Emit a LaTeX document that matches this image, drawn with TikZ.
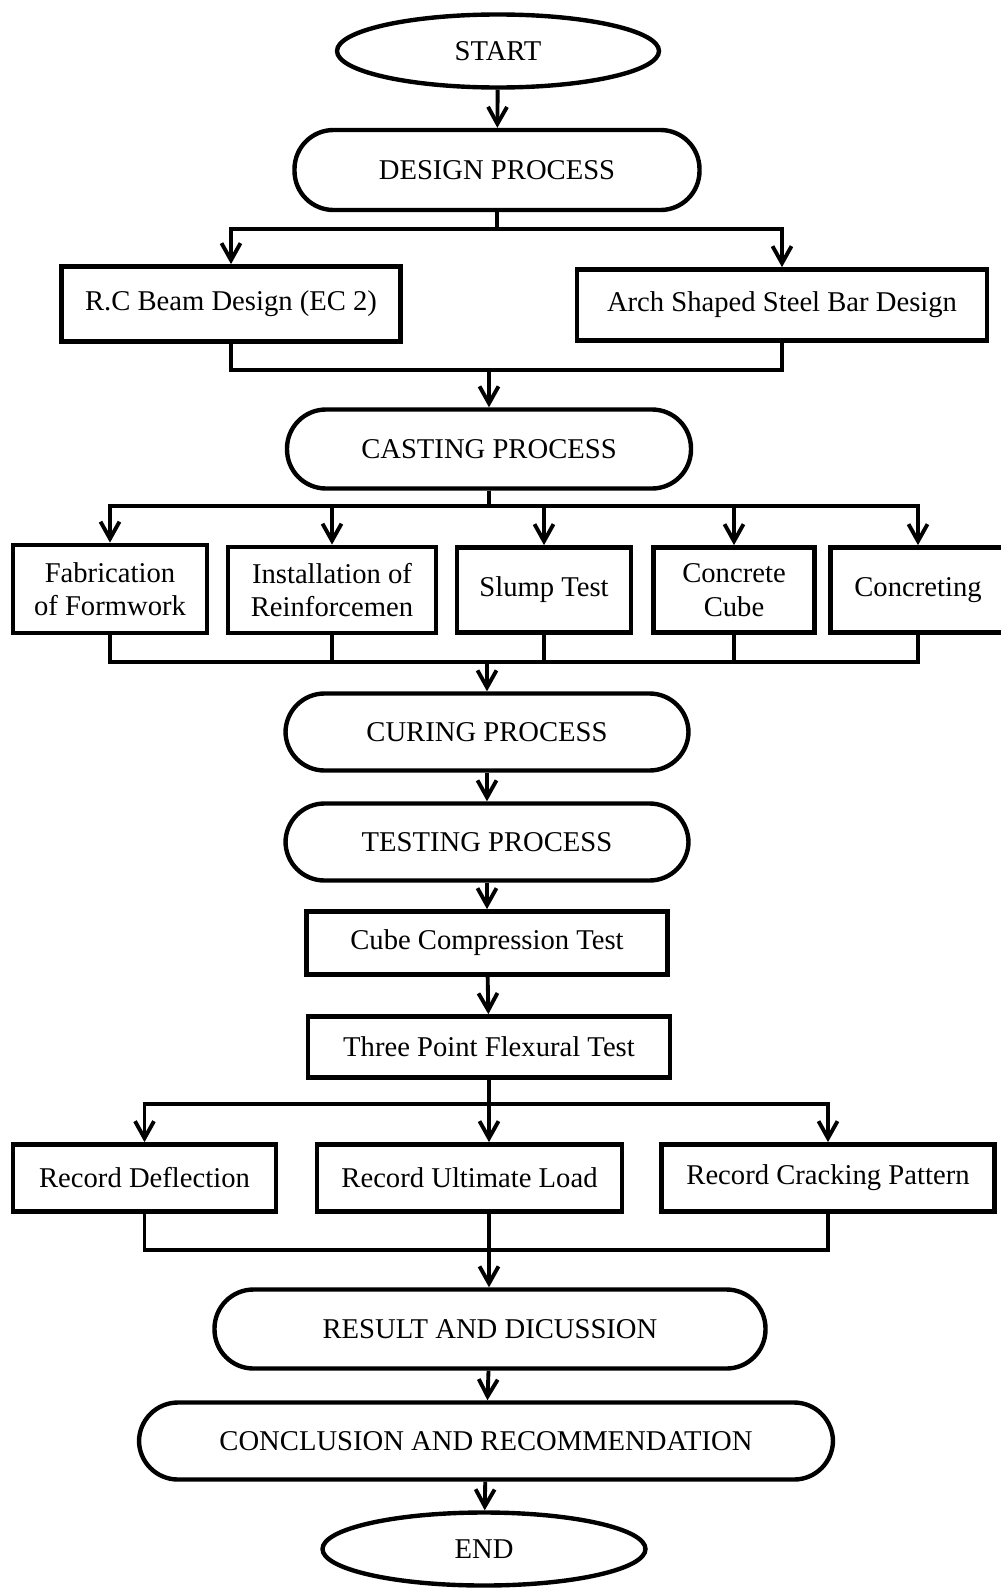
\documentclass[tikz,border=0pt]{standalone}
\usepackage{fontspec}
\setmainfont{Liberation Serif}
\usetikzlibrary{shapes.geometric,arrows.meta}

\begin{document}
\begin{tikzpicture}[font=\fontsize{16.3}{19}\selectfont,
  term/.style={draw,ellipse,line width=2.5pt,inner sep=0pt},
  proc/.style={draw,rounded corners=0.78cm,line width=2.5pt,inner sep=0pt},
  box/.style={draw,line width=2.7pt,inner sep=0pt,align=center},
  ln/.style={line width=2.2pt},
  arr/.style={ln,-{Straight Barb[length=0.34cm,width=0.38cm]}}]
\useasboundingbox (0,0) rectangle (20,-31.78);
\node[term,minimum width=6.44cm,minimum height=1.46cm] (start) at (9.96,-1.02) {START};
\node[proc,minimum width=8.10cm,minimum height=1.60cm] (design) at (9.94,-3.40) {DESIGN PROCESS};
\node[box,minimum width=6.78cm,minimum height=1.50cm] (rc) at (4.62,-6.08) {R.C Beam Design (EC 2)};
\node[box,minimum width=8.20cm,minimum height=1.42cm] (arch) at (15.64,-6.10) {Arch Shaped Steel Bar Design};
\node[proc,minimum width=8.08cm,minimum height=1.58cm] (casting) at (9.78,-8.98) {CASTING PROCESS};
\node[box,minimum width=3.88cm,minimum height=1.76cm] (fab) at (2.20,-11.78) {Fabrication\\of Formwork};
\node[box,minimum width=4.16cm,minimum height=1.72cm] (inst) at (6.64,-11.80) {Installation of\\Reinforcemen};
\node[box,minimum width=3.48cm,minimum height=1.70cm] (slump) at (10.88,-11.80) {Slump Test};
\node[box,minimum width=3.22cm,minimum height=1.70cm] (cube) at (14.68,-11.80) {Concrete\\Cube};
\node[box,minimum width=3.50cm,minimum height=1.70cm] (concreting) at (18.36,-11.80) {Concreting};
\node[proc,minimum width=8.06cm,minimum height=1.54cm] (curing) at (9.74,-14.64) {CURING PROCESS};
\node[proc,minimum width=8.06cm,minimum height=1.54cm] (testing) at (9.74,-16.84) {TESTING PROCESS};
\node[box,minimum width=7.22cm,minimum height=1.26cm] (compr) at (9.74,-18.86) {Cube Compression Test};
\node[box,minimum width=7.24cm,minimum height=1.22cm] (flex) at (9.78,-20.94) {Three Point Flexural Test};
\node[box,minimum width=5.26cm,minimum height=1.34cm] (rdef) at (2.89,-23.56) {Record Deflection};
\node[box,minimum width=6.10cm,minimum height=1.34cm] (rult) at (9.39,-23.56) {Record Ultimate Load};
\node[box,minimum width=6.66cm,minimum height=1.34cm] (rcrack) at (16.56,-23.56) {Record Cracking Pattern};
\node[proc,minimum width=11.02cm,minimum height=1.58cm] (result) at (9.80,-26.58) {RESULT AND DICUSSION};
\node[proc,minimum width=13.88cm,minimum height=1.54cm] (concl) at (9.72,-28.82) {CONCLUSION AND RECOMMENDATION};
\node[term,minimum width=6.46cm,minimum height=1.46cm] (stop) at (9.68,-30.98) {END};
\coordinate (j1) at (9.78,-7.40);
\coordinate (j2) at (9.74,-13.24);
\coordinate (j3) at (9.78,-25.00);
\draw[arr] (start) -- (design);
\draw[arr] (design.south) -- ++(0,-0.34) -| (rc.north); \draw[arr] (design.south) -- ++(0,-0.34) -| (arch.north);
\draw[ln] (rc.south) |- (j1) -| (arch.south);
\draw[arr] (j1) -- (casting.north);
\draw[arr] (casting.south) -- ++(0,-0.31) -| (fab.north); \draw[arr] (casting.south) -- ++(0,-0.31) -| (inst.north);
\draw[arr] (casting.south) -- ++(0,-0.31) -| (slump.north); \draw[arr] (casting.south) -- ++(0,-0.31) -| (cube.north);
\draw[arr] (casting.south) -- ++(0,-0.31) -| (concreting.north);
\draw[ln] (fab.south) |- (j2) -| (concreting.south);
\draw[ln] (inst.south) -- (inst.south |- j2); \draw[ln] (slump.south) -- (slump.south |- j2); \draw[ln] (cube.south) -- (cube.south |- j2);
\draw[arr] (j2) -- (curing.north);
\draw[arr] (curing) -- (testing); \draw[arr] (testing) -- (compr); \draw[arr] (compr) -- (flex);
\draw[arr] (flex.south) -- ++(0,-0.49) -| (rdef.north); \draw[arr] (flex.south) -- ++(0,-0.49) -| (rcrack.north);
\draw[arr] (flex.south) -- (flex.south |- rult.north);
\draw[ln] (rdef.south) |- (j3) -| (rcrack.south);
\draw[arr] (rult.south -| j3) -- (result.north -| j3);
\draw[arr] (result) -- (concl); \draw[arr] (concl) -- (stop);
\end{tikzpicture}
\end{document}
